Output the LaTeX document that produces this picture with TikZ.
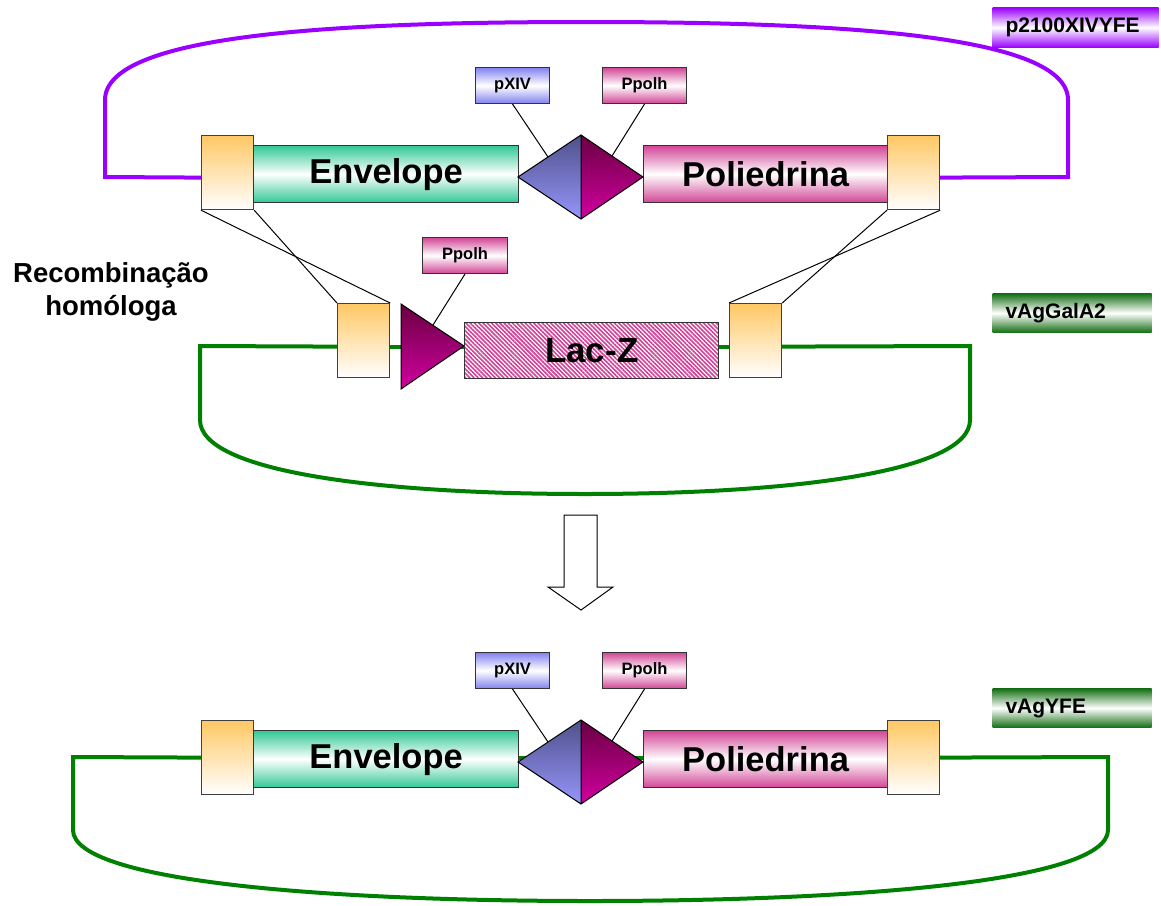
\documentclass[tikz,border=0pt]{standalone}
\usepackage{fontspec}
\setmainfont{Liberation Sans}
\usetikzlibrary{patterns.meta,backgrounds}

\definecolor{roxo}{RGB}{153,0,255}
\definecolor{verde}{RGB}{0,128,0}
\definecolor{verdetag}{RGB}{20,110,20}
\definecolor{laranja}{RGB}{255,200,100}
\definecolor{verdeagua}{RGB}{50,200,150}
\definecolor{rosa}{RGB}{210,70,150}
\definecolor{azul}{RGB}{130,130,240}
\definecolor{azulesc}{RGB}{80,80,140}
\definecolor{azulcla}{RGB}{150,150,250}
\definecolor{vinho}{RGB}{105,0,65}
\definecolor{magviva}{RGB}{210,0,160}

\begin{document}
\begin{tikzpicture}[x=1pt, y=-1pt, line width=1pt,
  homol/.style={draw=black!75, line width=1.2pt, anchor=north west, inner sep=0pt,
    minimum width=52pt, minimum height=74pt, top color=laranja, bottom color=white},
  gene/.style={draw=black!80, line width=1.2pt, anchor=north west, inner sep=0pt,
    minimum height=57pt, font=\fontsize{34.5}{36}\selectfont\bfseries},
  promo/.style={draw=black!80, line width=1pt, anchor=north west, inner sep=0pt,
    minimum height=36pt, font=\fontsize{16.5}{18}\selectfont\bfseries},
  tag/.style={anchor=north west, inner xsep=13pt, inner ysep=0pt, minimum height=40pt,
    text width=140pt, align=left, font=\fontsize{21}{22}\selectfont\bfseries},
  loop/.style={line width=4pt, line join=miter}]

\useasboundingbox (0,0) rectangle (1161,905);

% cassete Envelope / Poliedrina (plasmideo e virus recombinante)
\foreach \dy/\s in {0/a, 585/b} {
  \node[homol] (hl\s) at (201,135+\dy) {};
  \node[gene, top color=verdeagua, bottom color=verdeagua, middle color=white,
    minimum width=265pt] (env\s) at (253,145+\dy) {Envelope};
  \node[gene, top color=rosa, bottom color=rosa, middle color=white,
    minimum width=244pt] (pol\s) at (643,145+\dy) {Poliedrina};
  \node[homol] (hr\s) at (887,135+\dy) {};
  % promotores
  \coordinate (dw\s) at (518,177+\dy);
  \coordinate (dn\s) at (581,135+\dy);
  \coordinate (de\s) at (643,177+\dy);
  \coordinate (ds\s) at (581,219+\dy);
  \shade[top color=azulesc, bottom color=azulcla] (dw\s) -- (dn\s) -- (ds\s) -- cycle;
  \shade[top color=vinho, bottom color=magviva] (dn\s) -- (de\s) -- (ds\s) -- cycle;
  \draw (dw\s) -- (dn\s) -- (de\s) -- (ds\s) -- cycle (dn\s) -- (ds\s);
  \node[promo, minimum width=74pt, top color=azul, bottom color=azul, middle color=white]
    (pxiv\s) at (475,67+\dy) {pXIV};
  \node[promo, minimum width=84pt, top color=rosa, bottom color=rosa, middle color=white]
    (ppolh\s) at (602,67+\dy) {Ppolh};
  \coordinate (ax\s) at (548,157+\dy);
  \coordinate (ay\s) at (612,156+\dy);
  \draw (pxiv\s.south) -- (ax\s);
  \draw (ppolh\s.south) -- (ay\s);
}

% virus vAgGalA2 com Lac-Z
\node[homol] (hlm) at (337,303) {};
\coordinate (tw) at (401,304);
\coordinate (tt) at (464,346);
\coordinate (tb) at (401,389);
\shade[top color=vinho, bottom color=magviva] (tw) -- (tt) -- (tb) -- cycle;
\draw (tw) -- (tt) -- (tb) -- cycle;
\node[draw=black!80, line width=1.2pt, anchor=north west, inner sep=0pt,
  minimum width=254pt, minimum height=56pt, preaction={fill=white},
  pattern={Lines[angle=-45, distance=3pt, line width=1.6pt]}, pattern color=rosa!90!magviva,
  font=\fontsize{35}{36}\selectfont\bfseries] (lacz) at (464,322) {Lac-Z};
\node[homol] (hrm) at (729,303) {};
\node[promo, minimum width=85pt, top color=rosa, bottom color=rosa, middle color=white]
  (ppolhm) at (422,237) {Ppolh};
\coordinate (az) at (433,325);
\draw (ppolhm.south) -- (az);

% recombinacao
\draw (hla.south west) -- (hlm.north east);
\draw (hla.south east) -- (hlm.north west);
\draw (hra.south west) -- (hrm.north east);
\draw (hra.south east) -- (hrm.north west);
\node[align=center, font=\fontsize{27.5}{33}\selectfont\bfseries] (recomb) at (111,292)
  {Recombinação\\homóloga};

% seta
\draw[fill=white] (564,515) -- (597,515) -- (597,587) -- (613,587) -- (581,610)
  -- (548,587) -- (564,587) -- cycle;

% nomes
\node[tag, top color=roxo, bottom color=roxo, middle color=white] (tp) at (992,7) {p2100XIVYFE};
\node[tag, text width=133pt, minimum height=39pt, top color=verdetag, bottom color=verdetag,
  middle color=white] (tm) at (992,293) {vAgGalA2};
\node[tag, text width=133pt, minimum height=39pt, top color=verdetag, bottom color=verdetag,
  middle color=white] (tf) at (992,688) {vAgYFE};

% DNA
\begin{scope}[on background layer]
\draw[loop, roxo] ([yshift=-5pt]hla.west) -- (105,177) -- (105,100)
  .. controls (105,35) and (330,22) .. (586,22)
  .. controls (842,22) and (1068,35) .. (1068,100) -- (1068,177) -- ([yshift=-5pt]hra.east);
\draw[loop, verde] ([yshift=-6pt]hlm.west) -- (200,346) -- (200,420)
  .. controls (200,472) and (380,494) .. (585,494)
  .. controls (790,494) and (970,472) .. (970,420) -- (970,346) -- ([yshift=-6pt]hrm.east);
\draw[loop, verde] ([yshift=-6pt]hlm.east) -- ([yshift=-6pt]hrm.west);
\draw[loop, verde] (hlb.west) -- (73,757) -- (73,830)
  .. controls (73,882) and (330,901) .. (590,901)
  .. controls (850,901) and (1108,882) .. (1108,830) -- (1108,757) -- (hrb.east);
\draw[loop, verde] (hlb.east) -- (hrb.west);
\end{scope}

\end{tikzpicture}
\end{document}
